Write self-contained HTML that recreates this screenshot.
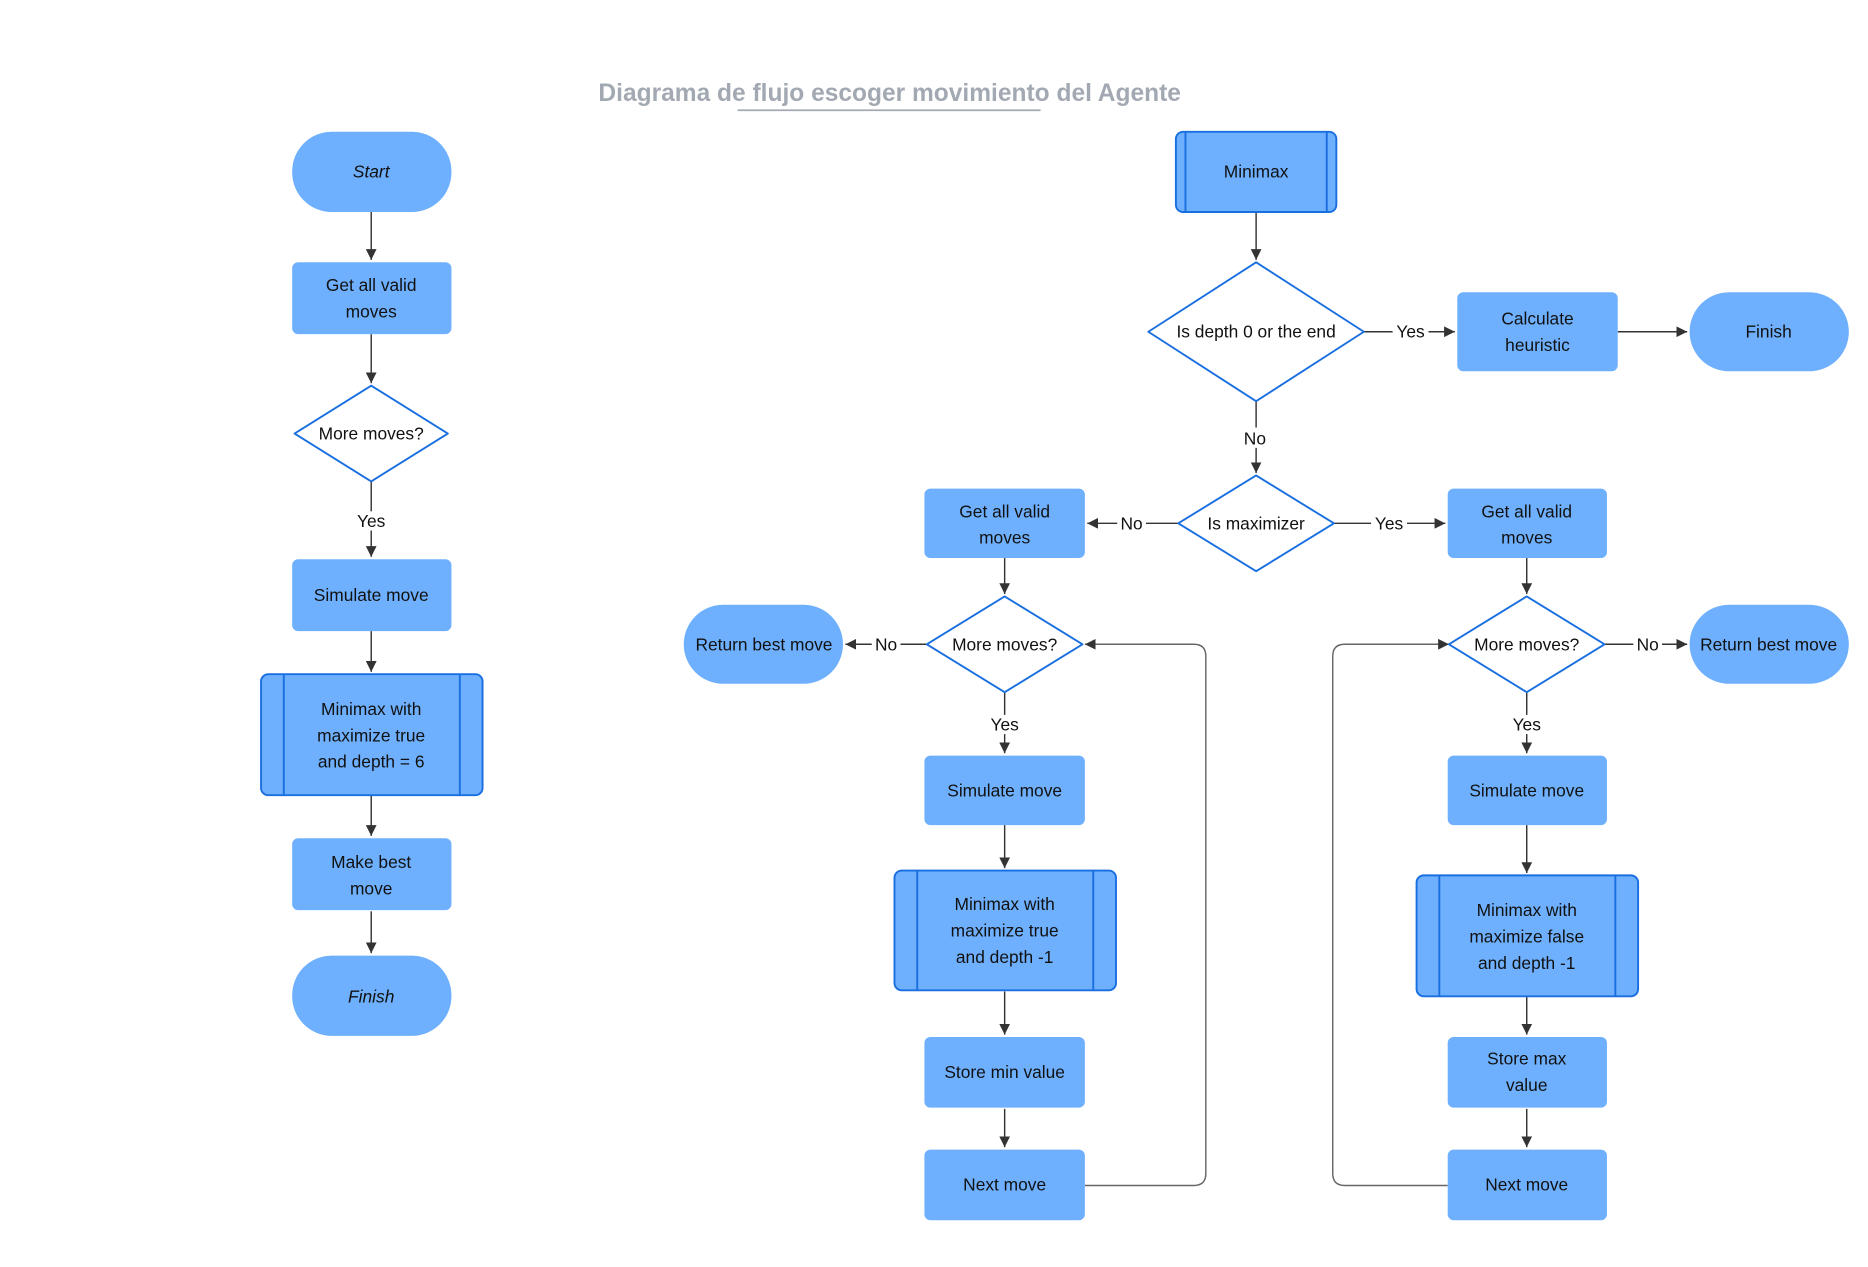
<!DOCTYPE html>
<html><head><meta charset="utf-8"><style>
html,body{margin:0;padding:0;background:#fff;width:1868px;height:1267px;overflow:hidden}
svg{display:block}
text{font-family:"Liberation Sans",sans-serif;font-size:14.5px;fill:#111;text-anchor:middle;dominant-baseline:central}
.n{fill:#6eb0fe}
.sp{fill:#6eb0fe;stroke:#1a6fe0;stroke-width:1.6}
.d{fill:#fff;stroke:#1a6fe0;stroke-width:1.6}
.l{stroke:#333;stroke-width:1.2;fill:none}
.lp{stroke:#666;stroke-width:1.2;fill:none}
.lb{fill:#fff}
</style></head><body>
<svg width="1868" height="1267" viewBox="0 0 1560 1058" xmlns="http://www.w3.org/2000/svg">
<defs><marker id="a" viewBox="0 0 10 10" refX="10" refY="5" markerWidth="9" markerHeight="9" markerUnits="userSpaceOnUse" orient="auto"><path d="M0,0L10,5L0,10z" fill="#333"/></marker></defs>
<text x="743" y="78" style="font-size:20.5px;font-weight:bold;fill:#a3a9b3">Diagrama de flujo escoger movimiento del Agente</text>
<line x1="616" y1="92" x2="869" y2="92" stroke="#a3a9b3" stroke-width="1.5"/>

<!-- left column -->
<line class="l" x1="310" y1="177" x2="310" y2="217" marker-end="url(#a)"/>
<line class="l" x1="310" y1="279" x2="310" y2="320" marker-end="url(#a)"/>
<line class="l" x1="310" y1="402" x2="310" y2="465" marker-end="url(#a)"/>
<rect class="lb" x="295" y="427" width="30" height="16"/><text x="310" y="435">Yes</text>
<line class="l" x1="310" y1="527" x2="310" y2="561" marker-end="url(#a)"/>
<line class="l" x1="310" y1="664" x2="310" y2="698" marker-end="url(#a)"/>
<line class="l" x1="310" y1="761" x2="310" y2="796" marker-end="url(#a)"/>

<rect class="n" x="244" y="110" width="133" height="67" rx="33"/><text x="310" y="143" font-style="italic">Start</text>
<rect class="n" x="244" y="219" width="133" height="60" rx="5"/><text x="310" y="238">Get all valid</text><text x="310" y="260">moves</text>
<path class="d" d="M310,322L374,362L310,402L246,362Z" stroke-linejoin="round"/><text x="310" y="362">More moves?</text>
<rect class="n" x="244" y="467" width="133" height="60" rx="5"/><text x="310" y="497">Simulate move</text>
<rect class="sp" x="218" y="563" width="185" height="101" rx="6"/><line class="sp" x1="237" y1="563" x2="237" y2="664"/><line class="sp" x1="384" y1="563" x2="384" y2="664"/>
<text x="310" y="592">Minimax with</text><text x="310" y="614">maximize true</text><text x="310" y="636">and depth = 6</text>
<rect class="n" x="244" y="700" width="133" height="60" rx="5"/><text x="310" y="720">Make best</text><text x="310" y="742">move</text>
<rect class="n" x="244" y="798" width="133" height="67" rx="33"/><text x="310" y="832" font-style="italic">Finish</text>

<!-- right top -->
<line class="l" x1="1049" y1="177" x2="1049" y2="217" marker-end="url(#a)"/>
<line class="l" x1="1139" y1="277" x2="1215" y2="277" marker-end="url(#a)"/>
<rect class="lb" x="1163" y="269" width="30" height="16"/><text x="1178" y="277">Yes</text>
<line class="l" x1="1351" y1="277" x2="1409" y2="277" marker-end="url(#a)"/>
<line class="l" x1="1049" y1="335" x2="1049" y2="395" marker-end="url(#a)"/>
<rect class="lb" x="1036" y="357" width="26" height="17"/><text x="1048" y="366">No</text>
<line class="l" x1="984" y1="437" x2="908" y2="437" marker-end="url(#a)"/>
<rect class="lb" x="933" y="429" width="24" height="16"/><text x="945" y="437">No</text>
<line class="l" x1="1114" y1="437" x2="1207" y2="437" marker-end="url(#a)"/>
<rect class="lb" x="1145" y="429" width="30" height="16"/><text x="1160" y="437">Yes</text>

<rect class="sp" x="982" y="110" width="134" height="67" rx="6"/><line class="sp" x1="990" y1="110" x2="990" y2="177"/><line class="sp" x1="1108" y1="110" x2="1108" y2="177"/><text x="1049" y="143">Minimax</text>
<path class="d" d="M1049,219L1139,277L1049,335L959,277Z" stroke-linejoin="round"/><text x="1049" y="277">Is depth 0 or the end</text>
<rect class="n" x="1217" y="244" width="134" height="66" rx="5"/><text x="1284" y="266">Calculate</text><text x="1284" y="288">heuristic</text>
<rect class="n" x="1411" y="244" width="133" height="66" rx="33"/><text x="1477" y="277">Finish</text>
<path class="d" d="M1049,397L1114,437L1049,477L984,437Z" stroke-linejoin="round"/><text x="1049" y="437">Is maximizer</text>

<!-- left branch -->
<line class="l" x1="839" y1="466" x2="839" y2="496" marker-end="url(#a)"/>
<line class="l" x1="774" y1="538" x2="706" y2="538" marker-end="url(#a)"/>
<rect class="lb" x="728" y="530" width="24" height="16"/><text x="740" y="538">No</text>
<line class="l" x1="839" y1="578" x2="839" y2="629" marker-end="url(#a)"/>
<rect class="lb" x="824" y="597" width="30" height="16"/><text x="839" y="605">Yes</text>
<line class="l" x1="839" y1="689" x2="839" y2="725" marker-end="url(#a)"/>
<line class="l" x1="839" y1="828" x2="839" y2="864" marker-end="url(#a)"/>
<line class="l" x1="839" y1="926" x2="839" y2="958" marker-end="url(#a)"/>
<path class="lp" d="M906,990H997Q1007,990 1007,980V548Q1007,538 997,538H906" marker-end="url(#a)"/>

<rect class="n" x="772" y="408" width="134" height="58" rx="5"/><text x="839" y="427">Get all valid</text><text x="839" y="449">moves</text>
<path class="d" d="M839,498L904,538L839,578L774,538Z" stroke-linejoin="round"/><text x="839" y="538">More moves?</text>
<rect class="n" x="571" y="505" width="133" height="66" rx="33"/><text x="638" y="538">Return best move</text>
<rect class="n" x="772" y="631" width="134" height="58" rx="5"/><text x="839" y="660">Simulate move</text>
<rect class="sp" x="747" y="727" width="185" height="100" rx="6"/><line class="sp" x1="766" y1="727" x2="766" y2="827"/><line class="sp" x1="913" y1="727" x2="913" y2="827"/>
<text x="839" y="755">Minimax with</text><text x="839" y="777">maximize true</text><text x="839" y="799">and depth -1</text>
<rect class="n" x="772" y="866" width="134" height="59" rx="5"/><text x="839" y="895">Store min value</text>
<rect class="n" x="772" y="960" width="134" height="59" rx="5"/><text x="839" y="989">Next move</text>

<!-- right branch -->
<line class="l" x1="1275" y1="466" x2="1275" y2="496" marker-end="url(#a)"/>
<line class="l" x1="1340" y1="538" x2="1409" y2="538" marker-end="url(#a)"/>
<rect class="lb" x="1364" y="530" width="24" height="16"/><text x="1376" y="538">No</text>
<line class="l" x1="1275" y1="578" x2="1275" y2="629" marker-end="url(#a)"/>
<rect class="lb" x="1260" y="597" width="30" height="16"/><text x="1275" y="605">Yes</text>
<line class="l" x1="1275" y1="689" x2="1275" y2="729" marker-end="url(#a)"/>
<line class="l" x1="1275" y1="832" x2="1275" y2="864" marker-end="url(#a)"/>
<line class="l" x1="1275" y1="926" x2="1275" y2="958" marker-end="url(#a)"/>
<path class="lp" d="M1209,990H1123Q1113,990 1113,980V548Q1113,538 1123,538H1210" marker-end="url(#a)"/>

<rect class="n" x="1209" y="408" width="133" height="58" rx="5"/><text x="1275" y="427">Get all valid</text><text x="1275" y="449">moves</text>
<path class="d" d="M1275,498L1340,538L1275,578L1210,538Z" stroke-linejoin="round"/><text x="1275" y="538">More moves?</text>
<rect class="n" x="1411" y="505" width="133" height="66" rx="33"/><text x="1477" y="538">Return best move</text>
<rect class="n" x="1209" y="631" width="133" height="58" rx="5"/><text x="1275" y="660">Simulate move</text>
<rect class="sp" x="1183" y="731" width="185" height="101" rx="6"/><line class="sp" x1="1202" y1="731" x2="1202" y2="832"/><line class="sp" x1="1349" y1="731" x2="1349" y2="832"/>
<text x="1275" y="760">Minimax with</text><text x="1275" y="782">maximize false</text><text x="1275" y="804">and depth -1</text>
<rect class="n" x="1209" y="866" width="133" height="59" rx="5"/><text x="1275" y="884">Store max</text><text x="1275" y="906">value</text>
<rect class="n" x="1209" y="960" width="133" height="59" rx="5"/><text x="1275" y="989">Next move</text>
</svg>
</body></html>
